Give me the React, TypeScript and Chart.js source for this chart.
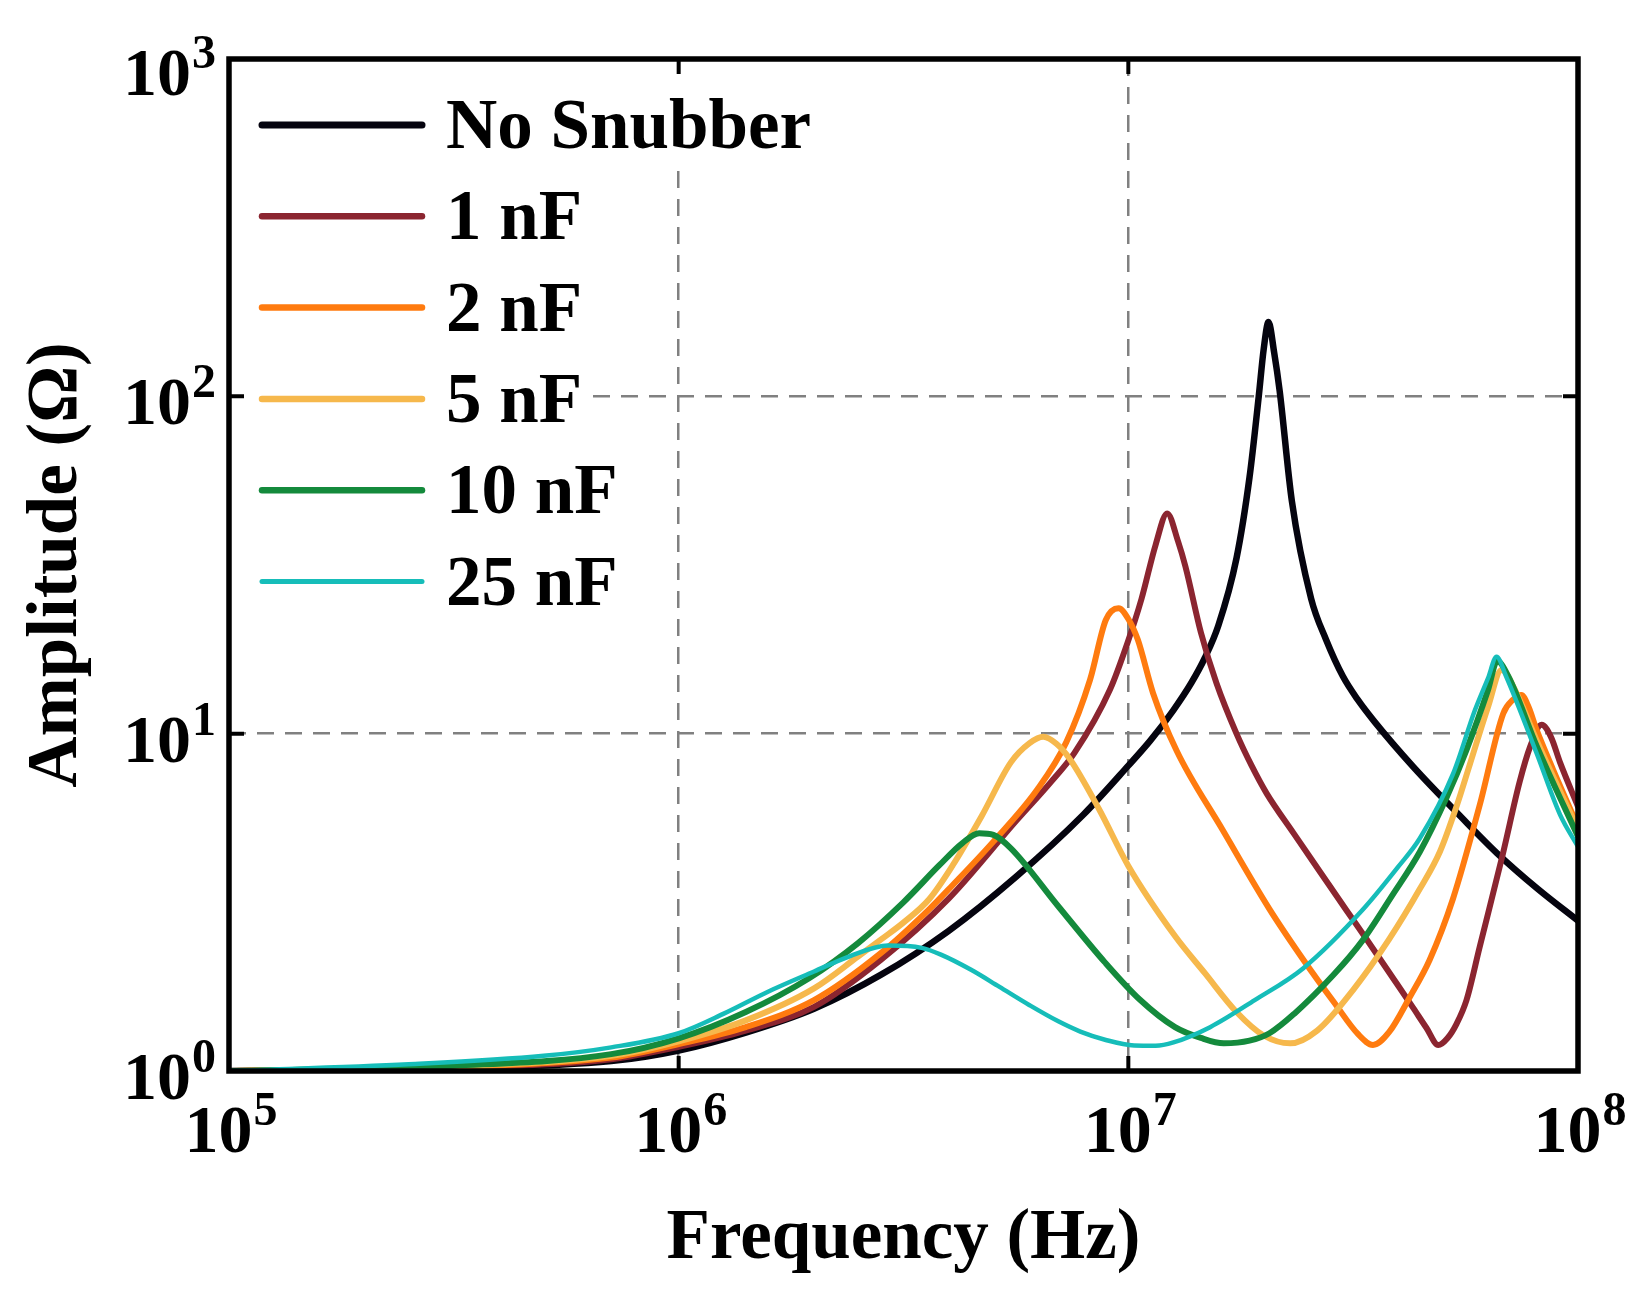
import { useEffect, useRef } from "react";
import { Chart, registerables, type Plugin } from "chart.js";

Chart.register(...registerables);

const FONT = '"Liberation Serif", "Times New Roman", serif';

// Frequency (Hz) and amplitude (Ω), one pair per curve
const noSnubberFreq = [1e5, 3.16e5, 7.08e5, 1e6, 1.41e6, 2.0e6, 2.82e6, 3.98e6, 5.62e6, 7.94e6, 1e7, 1.12e7, 1.26e7, 1.38e7, 1.48e7, 1.585e7, 1.74e7, 1.86e7, 1.95e7, 2.0e7, 2.05e7, 2.11e7, 2.17e7, 2.31e7, 2.55e7, 2.75e7, 3.0e7, 3.24e7, 3.53e7, 4.3e7, 5.47e7, 6.61e7, 8.13e7, 1e8];
const noSnubberAmp = [1.0, 1.02, 1.07, 1.15, 1.3, 1.53, 1.93, 2.6, 3.76, 5.75, 8.04, 9.55, 11.75, 14.13, 16.79, 20.89, 33.11, 57.54, 100, 138, 166, 134.9, 104, 48.98, 25.12, 19.05, 14.79, 12.59, 10.84, 7.98, 5.7, 4.42, 3.47, 2.79];

const c1nFreq = [1e5, 3.16e5, 7.08e5, 1e6, 1.41e6, 2.0e6, 2.82e6, 3.98e6, 5.62e6, 6.71e6, 7.59e6, 9.1e6, 9.95e6, 1.07e7, 1.15e7, 1.22e7, 1.29e7, 1.34e7, 1.45e7, 1.57e7, 1.74e7, 1.88e7, 2.03e7, 2.33e7, 2.67e7, 3.06e7, 3.39e7, 3.88e7, 4.3e7, 4.6e7, 4.89e7, 5.13e7, 5.37e7, 5.65e7, 6.05e7, 6.81e7, 7.41e7, 7.82e7, 8.3e7, 8.71e7, 9.12e7, 1e8];
const c1nAmp = [1.0, 1.023, 1.084, 1.18, 1.318, 1.549, 2.138, 3.236, 5.495, 7.161, 8.77, 13.49, 18.54, 25.12, 36.31, 44.98, 37.15, 31.26, 19.95, 14.13, 10.0, 8.035, 6.653, 5.07, 3.89, 2.985, 2.455, 1.884, 1.538, 1.343, 1.194, 1.253, 1.38, 1.622, 2.344, 4.416, 7.161, 9.12, 10.62, 9.77, 8.222, 6.081];

const c2nFreq = [1e5, 3.16e5, 7.08e5, 1e6, 1.41e6, 2.0e6, 2.82e6, 3.61e6, 4.06e6, 5.01e6, 6.28e6, 7.28e6, 8.22e6, 8.91e6, 9.51e6, 1e7, 1.05e7, 1.135e7, 1.28e7, 1.62e7, 2.06e7, 2.45e7, 2.88e7, 3.24e7, 3.5e7, 3.8e7, 4.23e7, 4.68e7, 5.27e7, 6.05e7, 6.82e7, 7.16e7, 7.48e7, 7.76e7, 8.09e7, 8.81e7, 1e8];
const c2nAmp = [1.0, 1.028, 1.096, 1.202, 1.349, 1.622, 2.239, 3.02, 3.548, 4.786, 6.839, 9.44, 14.45, 21.73, 23.55, 21.88, 18.97, 13.18, 8.913, 5.188, 3.02, 2.138, 1.585, 1.288, 1.194, 1.303, 1.66, 2.138, 3.236, 6.166, 11.48, 12.59, 13.03, 12.02, 10.26, 7.798, 5.297];

const c5nFreq = [1e5, 3.16e5, 7.08e5, 1e6, 1.41e6, 2.0e6, 2.51e6, 2.82e6, 3.16e6, 3.61e6, 4.07e6, 4.72e6, 5.48e6, 6.03e6, 6.47e6, 6.92e6, 7.41e6, 8.61e6, 1e7, 1.27e7, 1.48e7, 1.74e7, 2.0e7, 2.29e7, 2.63e7, 3.16e7, 3.8e7, 4.45e7, 4.93e7, 5.37e7, 5.75e7, 6.31e7, 6.76e7, 7.24e7, 8.09e7, 1e8];
const c5nAmp = [1.0, 1.033, 1.109, 1.225, 1.413, 1.758, 2.188, 2.455, 2.754, 3.236, 4.074, 5.702, 8.222, 9.376, 9.795, 9.333, 8.414, 5.97, 4.055, 2.512, 1.95, 1.496, 1.274, 1.208, 1.318, 1.738, 2.455, 3.467, 4.467, 6.095, 8.128, 12.02, 15.45, 13.49, 9.55, 5.2];

const c10nFreq = [1e5, 3.16e5, 7.08e5, 1e6, 1.41e6, 1.95e6, 2.51e6, 3.16e6, 3.8e6, 4.27e6, 4.66e6, 5.01e6, 5.48e6, 6.97e6, 8.87e6, 1.06e7, 1.27e7, 1.45e7, 1.63e7, 1.86e7, 2.06e7, 2.34e7, 2.86e7, 3.31e7, 3.86e7, 4.45e7, 5.11e7, 5.65e7, 6.31e7, 6.61e7, 7.0e7, 8.09e7, 1e8];
const c10nAmp = [1.0, 1.037, 1.122, 1.25, 1.496, 1.884, 2.399, 3.162, 4.074, 4.732, 5.07, 5.012, 4.571, 3.09, 2.099, 1.629, 1.349, 1.253, 1.208, 1.23, 1.294, 1.479, 1.928, 2.427, 3.311, 4.467, 6.501, 8.954, 13.49, 16.41, 14.79, 9.204, 4.955];

const c25nFreq = [1e5, 2.51e5, 5.01e5, 7.08e5, 1e6, 1.26e6, 1.58e6, 2.0e6, 2.4e6, 2.92e6, 3.47e6, 3.83e6, 4.47e6, 5.16e6, 6.03e6, 6.97e6, 7.82e6, 8.91e6, 1.03e7, 1.15e7, 1.26e7, 1.52e7, 1.91e7, 2.45e7, 3.32e7, 3.98e7, 4.45e7, 5.27e7, 5.9e7, 6.31e7, 6.59e7, 6.92e7, 8.09e7, 9.12e7, 1e8];
const c25nAmp = [1.0, 1.047, 1.109, 1.175, 1.294, 1.479, 1.718, 1.972, 2.188, 2.355, 2.317, 2.213, 1.995, 1.778, 1.567, 1.406, 1.309, 1.236, 1.191, 1.189, 1.216, 1.349, 1.622, 2.018, 3.006, 4.027, 4.898, 7.586, 11.75, 14.62, 16.9, 14.79, 8.75, 5.754, 4.624];

// decade ticks on both axes
const xDecades = [1e5, 1e6, 1e7, 1e8];
const yDecades = [1, 10, 100, 1000];

const series = [
  { label: "No Snubber", freq: noSnubberFreq, amp: noSnubberAmp, color: "#05040f", width: 6.5 },
  { label: "1 nF", freq: c1nFreq, amp: c1nAmp, color: "#8b2530", width: 6 },
  { label: "2 nF", freq: c2nFreq, amp: c2nAmp, color: "#ff7b0f", width: 6 },
  { label: "5 nF", freq: c5nFreq, amp: c5nAmp, color: "#f6b84c", width: 6 },
  { label: "10 nF", freq: c10nFreq, amp: c10nAmp, color: "#148a3c", width: 6 },
  { label: "25 nF", freq: c25nFreq, amp: c25nAmp, color: "#16bdb9", width: 4.5 },
];

// box, inward ticks, 10^n tick labels and the in-plot legend
const frameAndLabels: Plugin<"line"> = {
  id: "frameAndLabels",
  afterDraw(chart) {
    const { ctx, chartArea: area } = chart;
    const xs = chart.scales.x;
    const ys = chart.scales.y;
    ctx.save();

    // legend: each entry sits on its own white patch
    const rowGap = 91.3;
    ctx.font = `bold 71px ${FONT}`;
    chart.data.datasets.forEach((ds, i) => {
      const cy = area.top + 66 + i * rowGap;
      const label = String(ds.label);
      const tw = ctx.measureText(label).width;
      const top = i === 0 ? area.top + 3 : cy - 46;
      ctx.fillStyle = "#fff";
      ctx.fillRect(area.left + 8, top, 217 + tw, cy + 46 - top);
      ctx.strokeStyle = ds.borderColor as string;
      ctx.lineWidth = (ds.borderWidth as number) + 0.5;
      ctx.lineCap = "round";
      ctx.beginPath();
      ctx.moveTo(area.left + 33, cy);
      ctx.lineTo(area.left + 193, cy);
      ctx.stroke();
      ctx.fillStyle = "#000";
      ctx.textAlign = "left";
      ctx.textBaseline = "alphabetic";
      ctx.fillText(label, area.left + 217, cy + 23);
    });

    // frame
    ctx.lineCap = "butt";
    ctx.strokeStyle = "#000";
    ctx.lineWidth = 5.5;
    ctx.strokeRect(area.left, area.top, area.right - area.left, area.bottom - area.top);

    // inward ticks on all four sides
    ctx.lineWidth = 4;
    ctx.beginPath();
    xDecades.forEach((v) => {
      const px = xs.getPixelForValue(v);
      ctx.moveTo(px, area.bottom);
      ctx.lineTo(px, area.bottom - 15);
      ctx.moveTo(px, area.top);
      ctx.lineTo(px, area.top + 15);
    });
    yDecades.forEach((v) => {
      const py = ys.getPixelForValue(v);
      ctx.moveTo(area.left, py);
      ctx.lineTo(area.left + 15, py);
      ctx.moveTo(area.right, py);
      ctx.lineTo(area.right - 15, py);
    });
    ctx.stroke();

    // tick labels as 10 with a raised exponent
    const baseFont = `bold 68px ${FONT}`;
    const supFont = `bold 48px ${FONT}`;
    ctx.fillStyle = "#000";
    ctx.textAlign = "left";
    ctx.textBaseline = "alphabetic";
    const drawPow = (value: number, place: (wb: number, we: number) => [number, number]) => {
      const exp = String(Math.round(Math.log10(value)));
      ctx.font = baseFont;
      const wb = ctx.measureText("10").width;
      ctx.font = supFont;
      const we = ctx.measureText(exp).width;
      const [x0, yb] = place(wb, we);
      ctx.font = baseFont;
      ctx.fillText("10", x0, yb);
      ctx.font = supFont;
      ctx.fillText(exp, x0 + wb + 1, yb - 27);
    };
    xDecades.forEach((v) => {
      const px = xs.getPixelForValue(v);
      drawPow(v, (wb, we) => [px - (wb + we + 1) / 2 + 2, area.bottom + 81]);
    });
    yDecades.forEach((v) => {
      const py = ys.getPixelForValue(v);
      // top label is kept clear of the canvas edge
      drawPow(v, (wb, we) => [area.left - 13 - we - 1 - wb, Math.max(py + 28, area.top + 36)]);
    });

    ctx.restore();
  },
};

export default function App() {
  const canvasRef = useRef<HTMLCanvasElement | null>(null);

  useEffect(() => {
    if (!canvasRef.current) return;

    const titleFont = { family: FONT, size: 71, weight: "bold" as const };

    const chart = new Chart(canvasRef.current, {
      type: "line",
      data: {
        datasets: series.map((s, i) => ({
          label: s.label,
          data: s.freq.map((f, k) => ({ x: f, y: s.amp[k] })),
          borderColor: s.color,
          backgroundColor: s.color,
          borderWidth: s.width,
          borderCapStyle: "round" as const,
          borderJoinStyle: "round" as const,
          pointRadius: 0,
          fill: false,
          cubicInterpolationMode: "monotone" as const,
          order: series.length - i, // later curves on top
        })),
      },
      options: {
        animation: false,
        responsive: true,
        maintainAspectRatio: false,
        events: [],
        layout: { padding: { top: 59, right: 69, left: 0, bottom: 0 } },
        plugins: {
          legend: { display: false },
          tooltip: { enabled: false },
        },
        scales: {
          x: {
            type: "logarithmic",
            min: 1e5,
            max: 1e8,
            afterBuildTicks: (scale) => {
              scale.ticks = xDecades.map((value) => ({ value }));
            },
            afterFit: (scale) => {
              scale.height = 220;
            },
            ticks: { display: false },
            grid: { color: "#808080", lineWidth: 2.5, drawTicks: false },
            border: { display: false, dash: [17, 11] },
            title: {
              display: true,
              text: "Frequency (Hz)",
              color: "#000",
              font: titleFont,
              padding: { top: 0, bottom: 9 },
            },
          },
          y: {
            type: "logarithmic",
            min: 1,
            max: 1000,
            afterBuildTicks: (scale) => {
              scale.ticks = yDecades.map((value) => ({ value }));
            },
            afterFit: (scale) => {
              scale.width = 229;
            },
            ticks: { display: false },
            grid: { color: "#808080", lineWidth: 2.5, drawTicks: false },
            border: { display: false, dash: [17, 11] },
            title: {
              display: true,
              text: "Amplitude (Ω)",
              color: "#000",
              font: titleFont,
              padding: { top: 15, bottom: 0 },
            },
          },
        },
      },
      plugins: [frameAndLabels],
    });

    return () => chart.destroy();
  }, []);

  return (
    <div style={{ position: "fixed", left: 0, top: 0, width: 1647, height: 1291, background: "#fff" }}>
      <canvas ref={canvasRef} />
    </div>
  );
}
